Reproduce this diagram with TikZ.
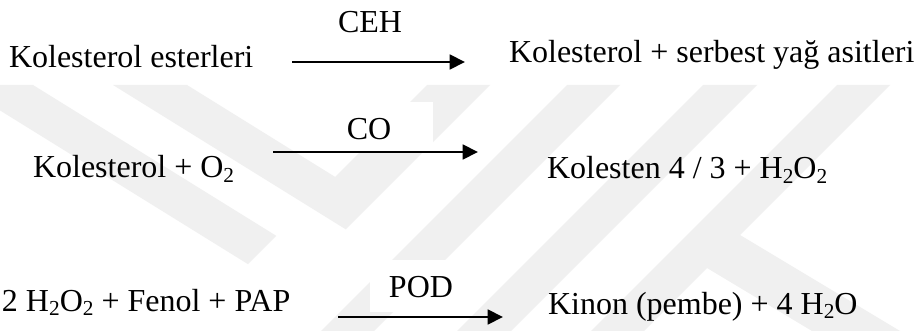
\documentclass[tikz,border=0pt]{standalone}
\usepackage{fontspec}
\setmainfont{Liberation Serif}
\usetikzlibrary{arrows.meta}
\definecolor{wm}{gray}{0.94}
\newcommand\chemsub[1]{\raisebox{-0.3ex}{\fontsize{16}{17}\selectfont #1}}
\tikzset{
  txt/.style={inner sep=0pt, outer sep=0pt, font=\fontsize{24}{29}\selectfont},
  lhs/.style={txt, anchor=base west},
  enz/.style={txt, anchor=base},
  rxn/.style={line width=2.1pt, -{Triangle[length=11.5pt,width=11pt]}},
  labelbox/.style={fill=white, draw=none},
}
\begin{document}
\begin{tikzpicture}[x=0.75pt, y=-0.75pt]
\useasboundingbox (0,0) rectangle (917,331);
\fill[white] (0,0) rectangle (917,331);

% light chevron watermark in the background
\begin{scope}
  \clip (0,85) rectangle (917,331);
  % left chevrons
  \fill[wm] (-41,85) -- (33,85) -- (276.2,235.8) -- (247.9,264.1) -- cycle;
  \fill[wm] (113,85) -- (187,85) -- (335.1,176.9) -- (427,85) -- (490,85)
            -- (345.7,229.3) -- cycle;
  % right diagonal strokes
  \fill[wm] (567,85) -- (620,85) -- (374,331) -- (321,331) -- cycle;
  \fill[wm] (703,85) -- (757,85) -- (511,331) -- (457,331) -- cycle;
  \fill[wm] (837,85) -- (890,85) -- (740,235) -- (900,331) -- (812,331)
            -- (707,268) -- (644,331) -- (591,331) -- cycle;
\end{scope}

% reaction 1
\node[lhs] (r1a) at (9,68) {Kolesterol esterleri};
\node[lhs] (r1b) at (509,63) {Kolesterol + serbest yağ asitleri};
\coordinate (a1s) at (292,62);
\coordinate (a1e) at (465,62);
\draw[rxn] (a1s) -- (a1e);
\node[enz] (e1) at (370,33) {CEH};

% reaction 2
\node[lhs] (r2a) at (33,178) {Kolesterol + O\chemsub{2}};
\node[lhs] (r2b) at (547,179) {Kolesten 4 / 3 + H\chemsub{2}O\chemsub{2}};
\coordinate (a2s) at (273,152);
\coordinate (a2e) at (478,152);
\draw[rxn] (a2s) -- (a2e);
\fill[labelbox] (328,102) rectangle (433,151.2);
\node[enz] (e2) at (369,140) {CO};

% reaction 3
\node[lhs] (r3a) at (2,311) {2 H\chemsub{2}O\chemsub{2} + Fenol + PAP};
\node[lhs] (r3b) at (548,314) {Kinon (pembe) + 4 H\chemsub{2}O};
\fill[labelbox] (370,260) rectangle (470,312);
\coordinate (a3s) at (338,317);
\coordinate (a3e) at (503,317);
\draw[rxn] (a3s) -- (a3e);
\node[enz] (e3) at (421,297) {POD};
\end{tikzpicture}
\end{document}
